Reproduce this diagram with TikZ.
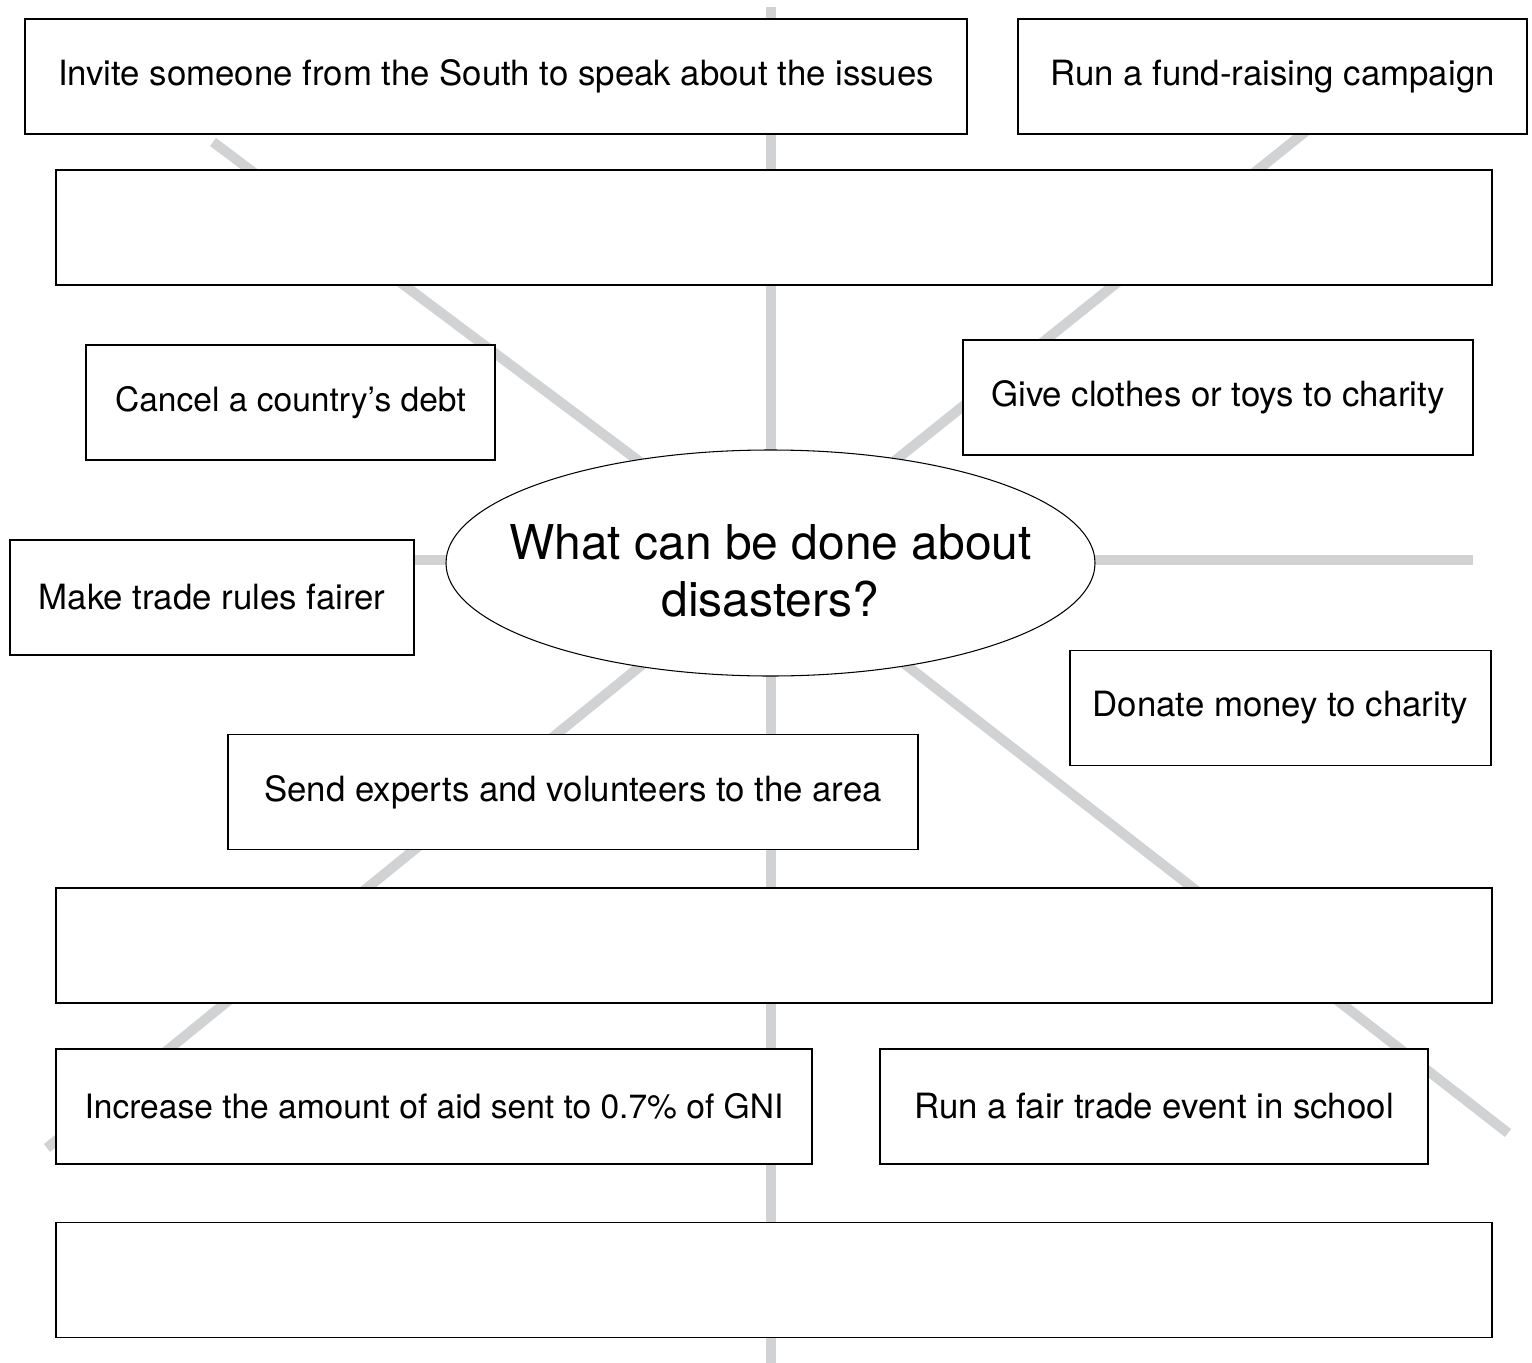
\documentclass[tikz,border=0pt]{standalone}
\usepackage{fontspec}
\setmainfont{TeX Gyre Heros}
\usetikzlibrary{shapes.geometric}
\definecolor{spokegray}{RGB}{209,210,212}
\tikzset{spoke/.style={spokegray,line width=5.7pt},
  idea/.style={draw,fill=white,line width=0.8pt,inner sep=0pt,minimum height=23mm,font=\fontsize{19.8}{23}\selectfont},
  tight/.style={font=\fontsize{19.1}{23}\selectfont},
  question/.style={draw,ellipse,fill=white,line width=0.6pt,inner sep=0pt,minimum width=129.8mm,minimum height=45.2mm},
  questiontext/.style={inner sep=0pt,align=center,font=\fontsize{27.3}{32.3}\selectfont}}

\begin{document}
\begin{tikzpicture}[x=0.2mm,y=-0.2mm]
\useasboundingbox (0,0) rectangle (1532,1363);
\coordinate (hub) at (771,560);
\coordinate (spokeN) at (771,7);
\coordinate (spokeS) at (771,1363);
\coordinate (spokeW) at (400,560);
\coordinate (spokeE) at (1473,560);
\coordinate (spokeNW) at (213,142);
\coordinate (spokeNE) at (1320,120);
\coordinate (spokeSW) at (47,1148);
\coordinate (spokeSE) at (1508,1133);
\foreach \e in {spokeN,spokeS,spokeW,spokeE,spokeNW,spokeNE,spokeSW,spokeSE}
  \draw[spoke] (hub) -- (\e);
\node[question] (question) at (770.5,563) {};
\node[questiontext] (questiontext) at (770.5,571) {What can be done about\\disasters?};
\node[idea,minimum width=188.4mm] (invite) at (496,76.5) {Invite someone from the South to speak about the issues};
\node[idea,minimum width=101.8mm] (fund) at (1272.5,76.5) {Run a fund-raising campaign};
\node[idea,minimum width=287.2mm] (blankA) at (774,227.5) {};
\node[idea,tight,minimum width=81.8mm] (debt) at (290.5,402.5) {Cancel a country’s debt};
\node[idea,minimum width=102mm] (clothes) at (1218,397.5) {Give clothes or toys to charity};
\node[idea,minimum width=80.8mm] (trade) at (212,597.5) {Make trade rules fairer};
\node[idea,minimum width=84.2mm] (donate) at (1280.5,708) {Donate money to charity};
\node[idea,minimum width=138mm] (experts) at (573,792) {Send experts and volunteers to the area};
\node[idea,minimum width=287.2mm] (blankB) at (774,945.5) {};
\node[idea,tight,minimum width=151.2mm] (aid) at (434,1106.5) {Increase the amount of aid sent to 0.7\% of GNI};
\node[idea,minimum width=109.6mm] (fairtrade) at (1154,1106.5) {Run a fair trade event in school};
\node[idea,minimum width=287.2mm] (blankC) at (774,1280) {};
\end{tikzpicture}
\end{document}
